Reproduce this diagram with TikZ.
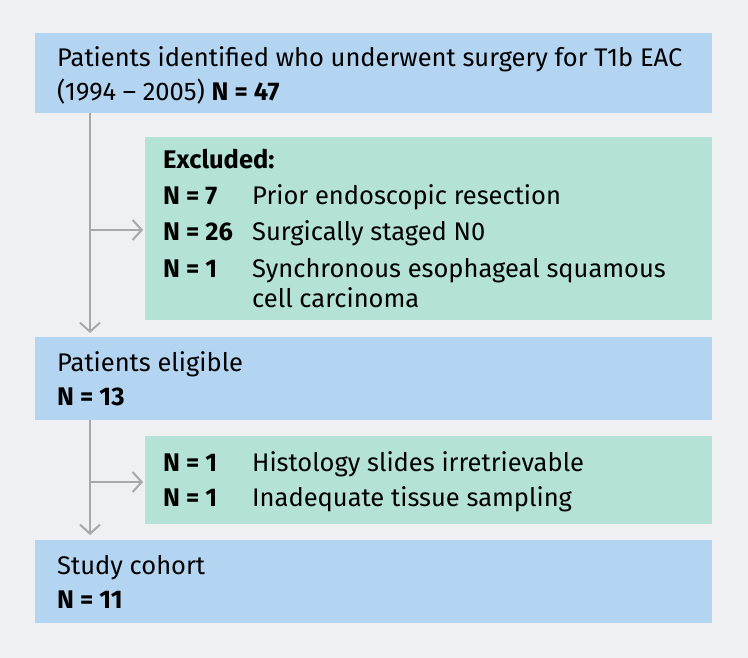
\documentclass[tikz,border=0pt]{standalone}
\usepackage{fontspec}
\setmainfont{Fira Sans}
\usetikzlibrary{arrows.meta}
\definecolor{bg}{HTML}{EEF0F1}
\definecolor{bluebox}{HTML}{B3D5F1}
\definecolor{greenbox}{HTML}{B5E2D6}
\definecolor{arr}{HTML}{A6A8AA}
\tikzset{
  bluefill/.style={fill=bluebox,draw=none},
  greenfill/.style={fill=greenbox,draw=none},
  txt/.style={anchor=base west,inner sep=0pt,font=\fontsize{25.5}{30}\selectfont},
  conn/.style={draw=arr,line width=2pt,-{Straight Barb[length=9pt,width=20pt,line width=2pt]}}
}
\begin{document}
\begin{tikzpicture}[x=1pt,y=-1pt]
\fill[bg] (0,0) rectangle (748,658);
\useasboundingbox (0,0) rectangle (748,658);
\path[bluefill] (35,33) rectangle (712,113);
\path[greenfill] (145,137) rectangle (712,320);
\path[bluefill] (35,337) rectangle (712,420);
\path[greenfill] (145,436) rectangle (712,524);
\path[bluefill] (35,540) rectangle (712,623);
\node[coordinate] (b1s) at (90,113) {};
\node[coordinate] (b3t) at (90,333) {};
\node[coordinate] (j1) at (90,230) {};
\node[coordinate] (g1) at (143,230) {};
\node[coordinate] (b3s) at (90,420) {};
\node[coordinate] (b5t) at (90,535) {};
\node[coordinate] (j2) at (90,482) {};
\node[coordinate] (g2) at (143,482) {};
\draw[conn] (b1s) -- (b3t);
\draw[conn] (j1) -- (g1);
\draw[conn] (b3s) -- (b5t);
\draw[conn] (j2) -- (g2);
\node[txt] (t1) at (57,67) {Patients identified who underwent surgery for T1b EAC};
\node[txt] (t2) at (57,101) {(1994 – 2005) \textbf{N = 47}};
\node[txt] (e0) at (163,169) {\textbf{Excluded:}};
\node[txt] (e1) at (163,205) {\textbf{N = 7}};
\node[txt] (e1b) at (252,205) {Prior endoscopic resection};
\node[txt] (e2) at (163,241) {\textbf{N = 26}};
\node[txt] (e2b) at (252,241) {Surgically staged N0};
\node[txt] (e3) at (163,277) {\textbf{N = 1}};
\node[txt] (e3b) at (252,277) {Synchronous esophageal squamous};
\node[txt] (e3c) at (252,307) {cell carcinoma};
\node[txt] (p1) at (57,371) {Patients eligible};
\node[txt] (p2) at (57,405) {\textbf{N = 13}};
\node[txt] (f1) at (163,471) {\textbf{N = 1}};
\node[txt] (f1b) at (252,471) {Histology slides irretrievable};
\node[txt] (f2) at (163,506) {\textbf{N = 1}};
\node[txt] (f2b) at (252,506) {Inadequate tissue sampling};
\node[txt] (s1) at (57,574) {Study cohort};
\node[txt] (s2) at (57,608) {\textbf{N = 11}};
\end{tikzpicture}
\end{document}
